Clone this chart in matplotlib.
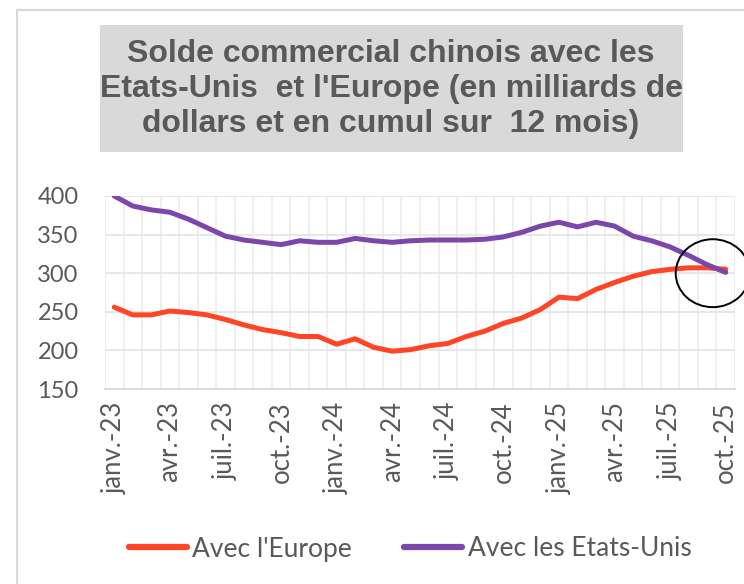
import numpy as np
import matplotlib.pyplot as plt
from matplotlib.patches import Ellipse, Rectangle
from matplotlib.lines import Line2D

# monthly, janv.-23 .. oct.-25 (34 months)
months = ['janv.', 'févr.', 'mars', 'avr.', 'mai', 'juin', 'juil.', 'août',
          'sept.', 'oct.', 'nov.', 'déc.']
labels = [months[i % 12] + '-' + str(23 + i // 12) for i in range(34)]

europe = [256, 246, 246, 251, 249, 246, 240, 233, 227, 223, 218, 218,
          208, 215, 204, 199, 201, 206, 209, 218, 225, 235, 242, 253,
          269, 267, 279, 288, 296, 302, 305, 307, 307, 305]
usa = [400, 387, 382, 379, 370, 359, 348, 343, 340, 337, 342, 340,
       340, 345, 342, 340, 342, 343, 343, 343, 344, 347, 353, 361,
       366, 360, 366, 361, 348, 342, 334, 323, 311, 301]

red = '#ff4526'
purple = '#7d46ab'
grey = '#595959'
font = ['Lato', 'DejaVu Sans']

fig = plt.figure(figsize=(7.44, 5.84), dpi=100)
ax = fig.add_axes([105/744, 1-389/584, 630/744, 193/584])

x = np.arange(len(europe))
ax.plot(x, europe, color=red, lw=3.6, solid_capstyle='round', zorder=3)
ax.plot(x, usa, color=purple, lw=3.6, solid_capstyle='round', zorder=4)

ax.set_xlim(-0.5, 33.5)
ax.set_ylim(150, 400)
ax.set_yticks(range(150, 401, 50))
ax.set_xticks(x[::3])
ax.set_xticklabels(labels[::3], rotation=90, family=font, fontsize=18.5,
                   color=grey)
ax.set_xticks(np.arange(-0.5, 34, 1), minor=True)
for t in ax.get_yticklabels():
    t.set_family(font)
    t.set_fontsize(17)
    t.set_color(grey)
ax.tick_params(axis='both', which='both', length=0)
ax.tick_params(axis='y', pad=19)
ax.tick_params(axis='x', pad=9)
ax.grid(axis='y', color='#e3e3e3', lw=1.2)
ax.grid(axis='x', which='minor', color='#ececec', lw=1.2)
for s in ['left', 'right', 'top']:
    ax.spines[s].set_visible(False)
ax.spines['bottom'].set_color('#d9d9d9')
ax.spines['bottom'].set_linewidth(1.2)

# circle around the crossing
ax.add_patch(Ellipse((32.3, 300), 4.0, 88, fill=False, ec='black', lw=1.4,
                     clip_on=False, zorder=5))

# title box
fig.add_artist(Rectangle((100/744, 1-152/584), 583/744, 127/584,
                         transform=fig.transFigure, fc='#d9d9d9', ec='none'))
fig.text(391/744, 1-89/584,
         "Solde commercial chinois avec les\nEtats-Unis  et l'Europe (en milliards de\ndollars et en cumul sur  12 mois)",
         ha='center', va='center', fontsize=23, fontweight='bold', color=grey,
         family=['Liberation Sans', 'DejaVu Sans'], linespacing=1.2)

# legend
handles = [Line2D([], [], color=red, lw=4.5, solid_capstyle='round'),
           Line2D([], [], color=purple, lw=4.5, solid_capstyle='round')]
fig.legend(handles, ["Avec l'Europe", 'Avec les Etats-Unis'], loc='center',
           bbox_to_anchor=(410/744, 1-549/584), ncol=2, frameon=False,
           prop={'family': font, 'size': 19}, labelcolor=grey,
           handlelength=2.2, handletextpad=0.2, columnspacing=2.0)

# chart border
fig.add_artist(Line2D([17/744, 17/744], [0, 1-10/584], color='#d9d9d9', lw=1.5))
fig.add_artist(Line2D([17/744, 1], [1-10/584, 1-10/584], color='#d9d9d9', lw=1.5))

fig.savefig('out.png', dpi=100)
